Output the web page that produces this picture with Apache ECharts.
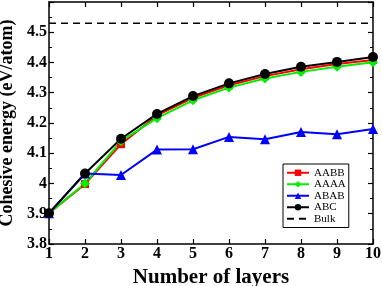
<!DOCTYPE html>
<html><head><meta charset="utf-8">
<script src="https://cdn.jsdelivr.net/npm/echarts@6/dist/echarts.min.js"></script>
<style>html,body{margin:0;padding:0;background:#fff}#c{width:382px;height:286px}</style>
</head><body><div id="c"></div>
<script>
const layers = [1,2,3,4,5,6,7,8,9,10];
const aabb = [3.902,3.998,4.130,4.225,4.283,4.325,4.355,4.378,4.395,4.408];
const aaaa = [3.902,4.000,4.140,4.216,4.275,4.317,4.347,4.369,4.386,4.401];
const abab = [3.902,4.033,4.028,4.112,4.113,4.154,4.146,4.170,4.163,4.180];
const abc  = [3.902,4.033,4.148,4.230,4.289,4.331,4.362,4.386,4.402,4.418];
const bulk = 4.53;
const names = ['AABB','AAAA','ABAB','ABC','Bulk'];

const pair = arr => layers.map((x,i)=>[x,arr[i]]);
const font = '"Liberation Serif","DejaVu Serif",serif';
const chart = echarts.init(document.getElementById('c'), null, {renderer:'canvas'});
const axisCommon = {
  axisLine:{show:true,onZero:false,lineStyle:{color:'#000',width:1.5}},
  axisTick:{show:true,inside:true,length:5,lineStyle:{color:'#000',width:1.2}},
  splitLine:{show:false}
};
chart.setOption({
  animation:false,
  backgroundColor:'#fff',
  grid:{left:49,right:9,top:2,bottom:42,containLabel:false,outerBoundsMode:'none'},
  legend:{
    data:names.map(n=>n==='Bulk'?{name:n,itemStyle:{color:'rgba(0,0,0,0)',opacity:0}}:n), orient:'vertical', left:283, top:164,
    itemWidth:22, itemHeight:8, itemGap:0,
    borderColor:'#000', borderWidth:1, padding:[3,3,3,3],
    backgroundColor:'#fff',
    textStyle:{fontFamily:font,fontSize:11,lineHeight:11.5,color:'#000'}
  },
  xAxis:[
    Object.assign({type:'value',min:1,max:10,interval:1,position:'bottom',
      name:'Number of layers',nameLocation:'middle',nameGap:13,
      nameTextStyle:{fontFamily:font,fontSize:21,fontWeight:'bold',color:'#000'},
      axisLabel:{fontFamily:font,fontSize:16,fontWeight:'bold',color:'#000',margin:2}},axisCommon),
    Object.assign({type:'value',min:1,max:10,interval:1,position:'top',axisLabel:{show:false}},axisCommon)
  ],
  yAxis:[
    Object.assign({type:'value',min:3.8,max:4.6,interval:0.1,position:'left',
      name:'Cohesive energy (eV/atom)',nameLocation:'middle',nameGap:30,
      nameTextStyle:{fontFamily:font,fontSize:18,fontWeight:'bold',color:'#000'},
      minorTick:{show:true,splitNumber:2,length:3,lineStyle:{color:'#000',width:1}},
      axisLabel:{fontFamily:font,fontSize:16,fontWeight:'bold',color:'#000',margin:2,
        formatter:v=>{const r=Math.round(v*10)/10; return (r===4.6)?'':(r===4?'4':r.toFixed(1));}}},axisCommon),
    Object.assign({type:'value',min:3.8,max:4.6,interval:0.1,position:'right',axisLabel:{show:false},
      minorTick:{show:true,splitNumber:2,length:3,lineStyle:{color:'#000',width:1}}},axisCommon)
  ],
  series:[
    {name:'AABB',type:'line',data:pair(aabb),symbol:'rect',symbolSize:8,color:'#ff0000',lineStyle:{width:2},itemStyle:{color:'#ff0000'}},
    {name:'AAAA',type:'line',data:pair(aaaa),symbol:'diamond',symbolSize:10,color:'#00ee00',lineStyle:{width:2},itemStyle:{color:'#00ee00'}},
    {name:'ABAB',type:'line',data:pair(abab),symbol:'triangle',symbolSize:10,color:'#0000ff',lineStyle:{width:2},itemStyle:{color:'#0000ff'}},
    {name:'ABC',type:'line',data:pair(abc),symbol:'circle',symbolSize:10,color:'#000',lineStyle:{width:2},itemStyle:{color:'#000'}},
    {name:'Bulk',type:'line',data:layers.map(x=>[x,bulk]),symbol:'none',color:'#000',lineStyle:{width:1.5,type:[7,5]}}
  ]
});
</script></body></html>
